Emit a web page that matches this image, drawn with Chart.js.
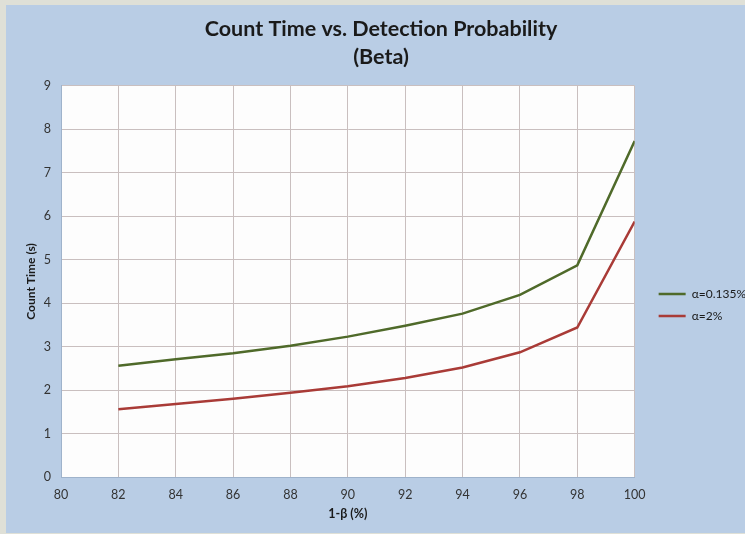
<!DOCTYPE html>
<html lang="en">
<head>
  <meta charset="UTF-8">
  <title>Count Time vs. Detection Probability (Beta)</title>
  <script src="https://cdn.jsdelivr.net/npm/chart.js"></script>
  <style>
    html, body { margin: 0; padding: 0; overflow: hidden; background: #dfe0d7; }
    #wrap { position: absolute; left: 6px; top: 5px; width: 739px; height: 528px; background: #b9cde5; }
  </style>
</head>
<body>
<div id="wrap">
  <canvas id="countChart" width="739" height="528"></canvas>
</div>
<script>
  // data
  const beta = [82, 84, 86, 88, 90, 92, 94, 96, 98, 100];
  const alpha0135 = [2.56, 2.71, 2.85, 3.02, 3.23, 3.48, 3.76, 4.19, 4.87, 7.73];
  const alpha2 = [1.56, 1.68, 1.80, 1.94, 2.09, 2.28, 2.52, 2.87, 3.44, 5.88];
  const seriesNames = ['α=0.135%', 'α=2%'];

  const FONT = 'Lato, "Open Sans", sans-serif';

  // white plot area
  const plotBg = {
    id: 'plotBg',
    beforeDraw(chart) {
      const a = chart.chartArea;
      const ctx = chart.ctx;
      ctx.save();
      ctx.fillStyle = '#fdfdfd';
      ctx.fillRect(a.left, a.top, a.right - a.left, a.bottom - a.top);
      ctx.restore();
    }
  };

  const toPoints = ys => ys.map((y, i) => ({ x: beta[i], y: y }));

  new Chart(document.getElementById('countChart'), {
    type: 'line',
    data: {
      datasets: [{
        label: seriesNames[0],
        data: toPoints(alpha0135),
        borderColor: '#4f6a2a',
        backgroundColor: '#4f6a2a',
        borderWidth: 2.5,
        pointRadius: 0,
        tension: 0
      }, {
        label: seriesNames[1],
        data: toPoints(alpha2),
        borderColor: '#a93b37',
        backgroundColor: '#a93b37',
        borderWidth: 2.5,
        pointRadius: 0,
        tension: 0
      }]
    },
    options: {
      responsive: false,
      animation: false,
      layout: { padding: { left: 0, top: 0, bottom: 0, right: -11 } },
      plugins: {
        title: {
          display: true,
          text: ['Count Time vs. Detection Probability', '(Beta)'],
          color: '#1a1a1a',
          font: { family: FONT, size: 21.5, weight: 'bold', lineHeight: 1.3 },
          padding: { top: 10, bottom: 15 }
        },
        legend: {
          position: 'right',
          title: {
            // empty title, only used to push the items down
            display: true,
            text: ' ',
            font: { size: 10, lineHeight: 1.2 },
            padding: { top: 60, bottom: 0 }
          },
          labels: {
            usePointStyle: true,
            pointStyle: 'line',
            pointStyleWidth: 27,
            padding: 10,
            color: '#1a1a1a',
            font: { family: FONT, size: 12 }
          }
        },
        tooltip: { enabled: false }
      },
      scales: {
        x: {
          type: 'linear',
          min: 80,
          max: 100,
          afterFit: s => { s.height = 56; },
          ticks: { stepSize: 2, padding: 10, color: '#333', font: { family: FONT, size: 12.5 } },
          grid: { color: '#c9bfbf', drawTicks: false },
          border: { color: '#9fb3cb' },
          title: {
            display: true,
            text: '1-β (%)',
            color: '#1a1a1a',
            font: { family: FONT, size: 12.5, weight: 'bold', lineHeight: 1.2 },
            padding: { top: 0, bottom: 12 }
          }
        },
        y: {
          min: 0,
          max: 9,
          afterFit: s => { s.width = 55; },
          ticks: { stepSize: 1, padding: 10, color: '#333', font: { family: FONT, size: 12.5 } },
          grid: { color: '#c9bfbf', drawTicks: false },
          border: { color: '#9fb3cb' },
          title: {
            display: true,
            text: 'Count Time (s)',
            color: '#1a1a1a',
            font: { family: FONT, size: 12, weight: 'bold', lineHeight: 1.2 },
            padding: { top: 18, bottom: 0 }
          }
        },
        gap: {
          type: 'linear',
          position: 'right',
          afterFit: s => { s.width = 14; },
          ticks: { display: false },
          grid: { display: false },
          border: { display: false }
        }
      }
    },
    plugins: [plotBg]
  });
</script>
</body>
</html>
